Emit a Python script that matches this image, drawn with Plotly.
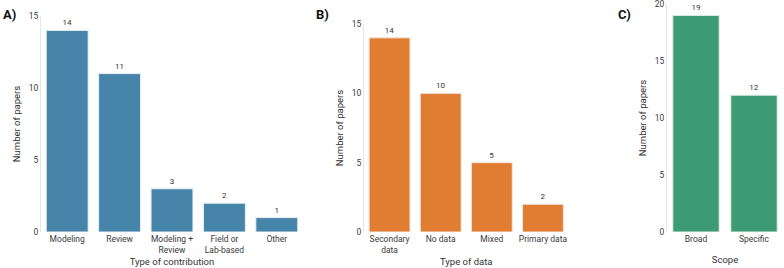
import plotly.graph_objects as go

# Data
cat_a = ["Modeling", "Review", "Modeling +<br>Review", "Field or<br>Lab-based", "Other"]
val_a = [14, 11, 3, 2, 1]
cat_b = ["Secondary<br>data", "No data", "Mixed", "Primary data"]
val_b = [14, 10, 5, 2]
cat_c = ["Broad", "Specific"]
val_c = [19, 12]

col_a = "#4784aa"
col_b = "#e17c33"
col_c = "#3d9a72"

FONT = "Roboto"
W, H = 784, 268

def px_x(p):
    return p / W

def px_y(p):
    return 1 - p / H

fig = go.Figure()

fig.add_trace(go.Bar(x=cat_a, y=val_a, marker=dict(color=col_a, line=dict(color="#e8eef2", width=1)),
                     text=val_a, textposition="outside", cliponaxis=False,
                     textfont=dict(size=8, color="#333"), xaxis="x", yaxis="y"))
fig.add_trace(go.Bar(x=cat_b, y=val_b, marker=dict(color=col_b, line=dict(color="#f4e6dc", width=1)),
                     text=val_b, textposition="outside", cliponaxis=False,
                     textfont=dict(size=8, color="#333"), xaxis="x2", yaxis="y2"))
fig.add_trace(go.Bar(x=cat_c, y=val_c, marker=dict(color=col_c, line=dict(color="#e0efe8", width=1)),
                     text=val_c, textposition="outside", cliponaxis=False,
                     textfont=dict(size=8, color="#333"), xaxis="x3", yaxis="y3"))

tick_font = dict(family=FONT, size=8.5, color="#3a3a3a")
title_font = dict(family=FONT, size=9.5, color="#333")

def xax(dom, anchor, title, standoff):
    return dict(domain=dom, anchor=anchor, showline=False, showgrid=False, zeroline=False,
                ticks="", tickfont=tick_font, title=dict(text=title, font=title_font, standoff=standoff),
                fixedrange=True, automargin=False, ticklabeloverflow="allow")

def yax(dom, anchor, rng, dtick):
    return dict(domain=dom, anchor=anchor, range=rng, dtick=dtick, showline=True, linecolor="#e6e6e6",
                linewidth=1, showgrid=False, zeroline=False, ticks="", tickfont=tick_font,
                title=dict(text="Number of papers", font=title_font, standoff=6), fixedrange=True,
                automargin=False, ticklabeloverflow="allow")

ybot = px_y(232)
fig.update_layout(
    width=W, height=H, margin=dict(l=0, r=0, t=0, b=0),
    plot_bgcolor="white", paper_bgcolor="white", showlegend=False, bargap=0.2,
    font=dict(family=FONT),
    xaxis=xax([px_x(41), px_x(303)], "y", "Type of contribution", 4),
    yaxis=yax([ybot, px_y(16)], "x", [0, 15], 5),
    xaxis2=xax([px_x(364), px_x(568.5)], "y2", "Type of data", 4),
    yaxis2=yax([ybot, px_y(24)], "x2", [0, 15], 5),
    xaxis3=xax([px_x(667), px_x(783)], "y3", "Scope", 13),
    yaxis3=yax([ybot, px_y(4)], "x3", [0, 20], 5),
)

for lab, x in [("A)", 1), ("B)", 314), ("C)", 616)]:
    fig.add_annotation(text="<b>%s</b>" % lab, x=px_x(x), y=px_y(15), xref="paper", yref="paper",
                       xanchor="left", yanchor="middle", showarrow=False,
                       font=dict(family=FONT, size=13, color="#111"))

fig.write_html("out.html")
